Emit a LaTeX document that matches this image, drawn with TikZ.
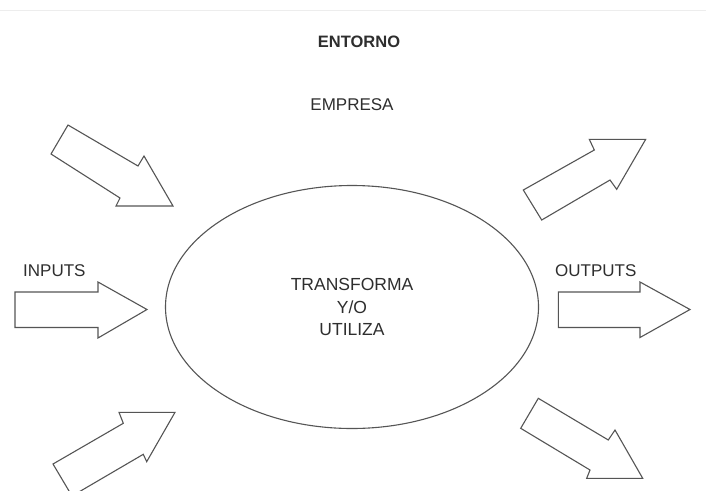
\documentclass[tikz,border=0pt]{standalone}
\usepackage{fontspec}
\setmainfont{Liberation Sans}
\usetikzlibrary{shapes.geometric}
\definecolor{ln}{HTML}{555555}
\definecolor{tx}{HTML}{2E2E2E}
\begin{document}
\begin{tikzpicture}[x=1pt,y=-1pt,
  blockarrow/.style={draw=ln,line width=1.1pt,fill=white,line join=miter},
  lbl/.style={text=tx,font=\fontsize{17}{21}\selectfont,inner sep=0pt}]
\useasboundingbox (0,0) rectangle (706,490);
\fill[white] (0,0) rectangle (706,490);
\draw[black!7,line width=0.8pt] (0,10) -- (706,10);
\clip (0,0) rectangle (706,490);

\node[lbl,font=\fontsize{16.5}{20}\selectfont\bfseries] (entorno) at (359,42) {ENTORNO};
\node[lbl] (empresa) at (352,105) {EMPRESA};

\node[draw=ln,line width=1.1pt,ellipse,minimum width=373pt,minimum height=243pt,
  inner sep=0pt,align=center,text=tx,font=\fontsize{17.5}{22.5}\selectfont] (core) at (352,307)
  {TRANSFORMA\\Y/O\\UTILIZA};

\node[lbl,anchor=west] (inputs) at (23,271) {INPUTS};
\node[lbl,anchor=west] (outputs) at (555,271) {OUTPUTS};

% upper-left arrow
\draw[blockarrow] (68,125) -- (51,154) -- (120,198) -- (116,206) -- (173,206)
  -- (144,156) -- (138,166) -- cycle;
% left arrow
\draw[blockarrow] (15,292) -- (98,292) -- (98,282) -- (147,309.5) -- (98,338)
  -- (98,327.5) -- (15,327.5) -- cycle;
% lower-left arrow
\draw[blockarrow] (53,464) -- (123.3,423.3) -- (119,412.3) -- (175,412.3)
  -- (146.7,461.7) -- (143.3,454.3) -- (72,496) -- cycle;
% upper-right arrow
\draw[blockarrow] (523.3,190) -- (541.7,220) -- (610,180) -- (616.7,189.3)
  -- (645.7,139.3) -- (589.3,139.3) -- (594.3,150) -- cycle;
% right arrow
\draw[blockarrow] (558.3,292) -- (640,292) -- (640,282) -- (690,309.5)
  -- (640,337.5) -- (640,327.5) -- (558.3,327.5) -- cycle;
% lower-right arrow
\draw[blockarrow] (538.3,398.3) -- (520.7,428.3) -- (590,470) -- (586.7,478.3)
  -- (642.7,478.3) -- (615,430) -- (608.3,440) -- cycle;
\end{tikzpicture}
\end{document}
